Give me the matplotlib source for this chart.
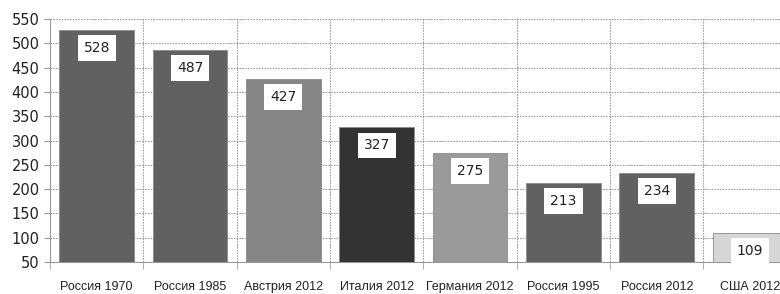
import matplotlib.pyplot as plt
import numpy as np

categories = ['Россия 1970', 'Россия 1985', 'Австрия 2012', 'Италия 2012',
              'Германия 2012', 'Россия 1995', 'Россия 2012', 'США 2012']
values = [528, 487, 427, 327, 275, 213, 234, 109]
colors = ['#616161', '#616161', '#868686', '#333333',
          '#9a9a9a', '#616161', '#616161', '#d6d6d6']
yticks = list(range(50, 551, 50))

fig = plt.figure(figsize=(7.8, 2.94), dpi=100)
ax = fig.add_axes([50 / 780, 32 / 294, 730 / 780, 243 / 294])

x = np.arange(len(categories))
ax.bar(x, values, width=0.8, color=colors, edgecolor='#8a8a8a', linewidth=0.6, zorder=3)

# value labels in white boxes just below the bar tops
for xi, v in zip(x, values):
    ax.annotate(str(v), (xi, v), xytext=(0, -8), textcoords='offset points',
                ha='center', va='top', fontsize=10, color='#222222', zorder=4,
                bbox=dict(boxstyle='square,pad=0.43', fc='white', ec='none'))

ax.set_ylim(50, 550)
ax.set_xlim(-0.5, 7.32)
ax.set_yticks(yticks)
ax.tick_params(axis='y', labelsize=10.5, length=4, color='#9a9a9a', labelcolor='#222222')

ax.set_xticks(x)
ax.set_xticklabels(categories, family='Liberation Sans', fontsize=9, color='#222222')
ax.set_xticks(np.arange(-0.5, 7.5, 1.0), minor=True)
ax.tick_params(axis='x', which='major', length=0, pad=14)
ax.tick_params(axis='x', which='minor', length=5, color='#9a9a9a')

ax.grid(axis='y', which='major', linestyle=(0, (1.5, 1)), color='#a0a0a0', linewidth=0.8, zorder=0)
ax.grid(axis='x', which='minor', linestyle=(0, (1.5, 1)), color='#a0a0a0', linewidth=0.8, zorder=0)

for s in ['top', 'right']:
    ax.spines[s].set_visible(False)
for s in ['left', 'bottom']:
    ax.spines[s].set_color('#9a9a9a')

fig.savefig('out.png', dpi=100)
